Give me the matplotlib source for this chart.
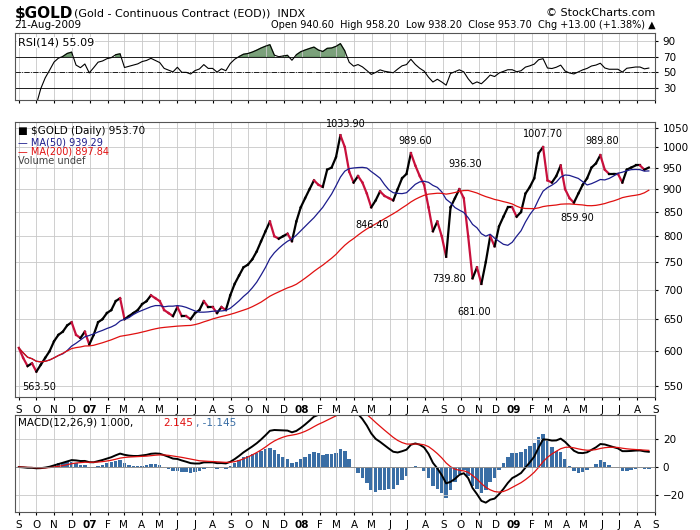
import matplotlib
matplotlib.use('Agg')
import matplotlib.pyplot as plt
import matplotlib.dates as mdates
from matplotlib.ticker import FixedLocator, NullLocator
import numpy as np
import pandas as pd

# weekly closes, Sep 2006 .. Aug 2009
close = [605, 590, 578, 582, 570, 580, 590, 600, 615, 625, 630, 640,
         645, 625, 620, 630, 610, 625, 645, 650, 660, 665, 680, 685,
         650, 655, 660, 665, 675, 680, 690, 685, 680, 665, 660, 655,
         670, 655, 655, 650, 660, 665, 680, 670, 670, 660, 670, 665,
         690, 710, 725, 740, 745, 755, 770, 790, 810, 830, 800, 795,
         800, 805, 790, 830, 860, 880, 900, 920, 910, 905, 945, 950,
         975, 1030, 1000, 940, 915, 930, 915, 890, 860, 875, 895, 885,
         880, 875, 900, 925, 935, 985, 955, 930, 910, 860, 810, 830,
         800, 760, 860, 880, 900, 880, 800, 720, 740, 710, 750, 800,
         780, 820, 840, 860, 860, 840, 850, 890, 905, 925, 985, 1000,
         920, 915, 930, 955, 900, 880, 870, 890, 910, 925, 950, 960,
         980, 945, 935, 935, 935, 915, 945, 950, 955, 955, 945, 950]

dates = pd.date_range(start='2006-09-01', end='2009-08-21', periods=len(close))
s = pd.Series(close, index=dates, dtype=float)
ma50 = s.rolling(10, min_periods=1).mean()
ma200 = s.rolling(40, min_periods=1).mean()

# RSI(14)
d = s.diff().fillna(0)
up = d.clip(lower=0).ewm(alpha=1/14).mean()
dn = (-d.clip(upper=0)).ewm(alpha=1/14).mean()
rsi = (100 - 100 / (1 + up / dn)).iloc[4:]

# MACD
macd = (s.ewm(span=12).mean() - s.ewm(span=26).mean()) * 0.7
signal = macd.ewm(span=9).mean()
hist = macd - signal

peaks = [('2006-10-06', 563.50, 'below'), ('2008-03-17', 1033.90, 'above'),
         ('2008-07-15', 989.60, 'above'), ('2008-05-01', 846.40, 'below'),
         ('2008-10-09', 936.30, 'above'), ('2008-09-11', 739.80, 'below'),
         ('2008-10-24', 681.00, 'below'), ('2009-02-20', 1007.70, 'above'),
         ('2009-06-02', 989.80, 'above'), ('2009-04-20', 859.90, 'below')]

fig = plt.figure(figsize=(7, 5.3), dpi=100)
L, W = 0.021, 0.915
ax_r = fig.add_axes([L, 0.811, W, 0.127])
ax_p = fig.add_axes([L, 0.251, W, 0.519])
ax_m = fig.add_axes([L, 0.034, W, 0.183])

xl = (pd.Timestamp('2006-08-25'), pd.Timestamp('2009-09-01'))
months = mdates.MonthLocator()

def month_fmt(x, pos):
    dt = mdates.num2date(x)
    if dt.month == 1:
        return '%02d' % (dt.year % 100)
    return 'JFMAMJJASOND'[dt.month - 1]

for ax in (ax_r, ax_p, ax_m):
    ax.set_xlim(xl)
    ax.xaxis.set_major_locator(months)
    ax.grid(True, color='#c8c8c8', lw=0.6)
    ax.yaxis.tick_right()
    ax.tick_params(labelsize=7.5, length=2)
    for sp in ax.spines.values():
        sp.set_color('#555555')

# RSI
ax_r.plot(rsi.index, rsi, color='black', lw=0.8)
ax_r.fill_between(rsi.index, rsi, 70, where=rsi > 70, color='#5a8a5a', alpha=0.8)
ax_r.axhline(70, color='black', lw=0.6)
ax_r.axhline(30, color='black', lw=0.6)
ax_r.axhline(50, color='black', lw=0.6, ls='-.')
ax_r.set_ylim(15, 100)
ax_r.set_yticks([30, 50, 70, 90])
ax_r.tick_params(labelbottom=False)
ax_r.text(0.005, 0.93, 'RSI(14) 55.09', transform=ax_r.transAxes, fontsize=8,
          va='top', bbox=dict(fc='white', ec='none', pad=0.5))

# price
for i in range(1, len(close)):
    c = 'black' if close[i] >= close[i - 1] else '#c8103c'
    ax_p.plot([dates[i - 1], dates[i]], [close[i - 1], close[i]], color=c, lw=1.6)
ax_p.plot(dates, ma50, color='#1c1c8c', lw=0.9)
ax_p.plot(dates, ma200, color='#e01010', lw=0.9)
ax_p.set_yscale('log')
ax_p.set_ylim(535, 1065)
ax_p.yaxis.set_major_locator(FixedLocator(list(range(550, 1051, 50))))
ax_p.yaxis.set_minor_locator(NullLocator())
ax_p.yaxis.set_major_formatter(plt.FuncFormatter(lambda v, p: '%d' % v))
ax_p.xaxis.set_major_formatter(plt.FuncFormatter(month_fmt))
for t, v, pos in peaks:
    dy = 1.012 if pos == 'above' else 0.985
    ax_p.text(pd.Timestamp(t), v * dy, '%.2f' % v, fontsize=7, ha='center',
              va='bottom' if pos == 'above' else 'top')
ax_p.text(0.005, 0.985, '\u25a0 $GOLD (Daily) 953.70', transform=ax_p.transAxes,
          fontsize=7.5, va='top')
ax_p.text(0.005, 0.945, '\u2014 MA(50) 939.29', transform=ax_p.transAxes,
          fontsize=7, va='top', color='#1c1c8c')
ax_p.text(0.005, 0.91, '\u2014 MA(200) 897.84', transform=ax_p.transAxes,
          fontsize=7, va='top', color='#e01010')
ax_p.text(0.005, 0.875, 'Volume undef', transform=ax_p.transAxes,
          fontsize=7, va='top', color='#444444')

# MACD
ax_m.bar(dates, hist * 1.5, width=6, color='#3a6ea5')
ax_m.plot(dates, macd, color='black', lw=1.4)
ax_m.plot(dates, signal, color='#e01010', lw=0.9)
ax_m.axhline(0, color='#888888', lw=0.6)
ax_m.set_ylim(-32, 37)
ax_m.set_yticks([-20, 0, 20])
ax_m.xaxis.set_major_formatter(plt.FuncFormatter(month_fmt))
ax_m.text(0.005, 0.97, 'MACD(12,26,9) 1.000,', transform=ax_m.transAxes,
          fontsize=7.5, va='top')
ax_m.text(0.232, 0.97, '2.145', transform=ax_m.transAxes, fontsize=7.5,
          va='top', color='#e01010')
ax_m.text(0.283, 0.97, ', -1.145', transform=ax_m.transAxes, fontsize=7.5,
          va='top', color='#3a6ea5')

for ax in (ax_p, ax_m):
    for lbl in ax.get_xticklabels():
        if lbl.get_text() in ('07', '08', '09'):
            lbl.set_fontweight('bold')

# header
fig.text(0.021, 0.975, '$GOLD', fontsize=11, fontweight='bold', va='center')
fig.text(0.105, 0.975, '(Gold - Continuous Contract (EOD))  INDX', fontsize=8, va='center')
fig.text(0.021, 0.952, '21-Aug-2009', fontsize=7.5, va='center')
fig.text(0.936, 0.952, 'Open 940.60  High 958.20  Low 938.20  Close 953.70  Chg +13.00 (+1.38%) \u25b2',
         fontsize=7, va='center', ha='right')
fig.text(0.936, 0.975, '\u00a9 StockCharts.com', fontsize=8, va='center', ha='right')

fig.savefig('out.png', dpi=100)
